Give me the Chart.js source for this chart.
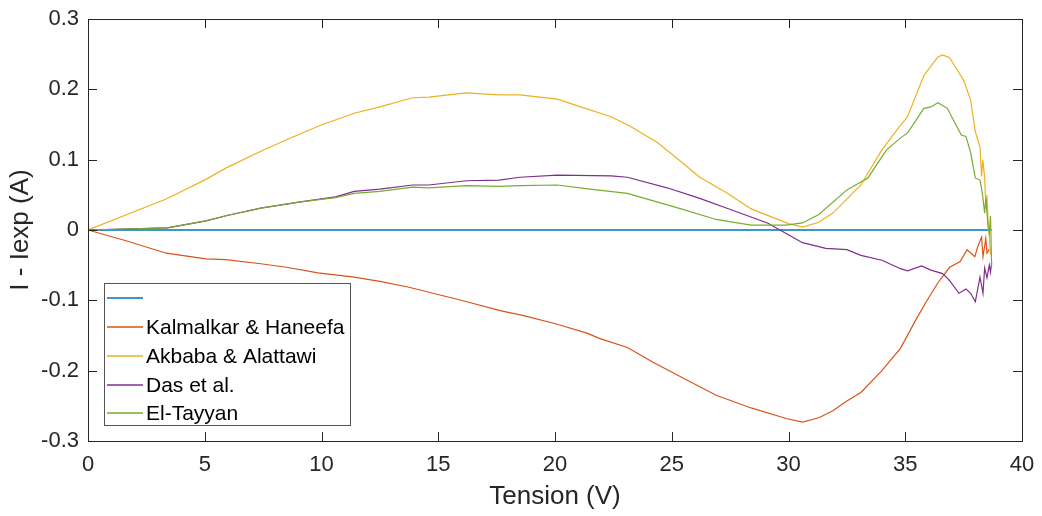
<!DOCTYPE html>
<html>
<head>
<meta charset="utf-8">
<title>I - Iexp vs Tension</title>
<script src="https://cdn.jsdelivr.net/npm/chart.js@4.4.1/dist/chart.umd.min.js"></script>
<style>
  body { margin: 0; background: #fff; }
  #wrap { width: 1042px; height: 516px; }
</style>
</head>
<body>
<div id="wrap"><canvas id="ivChart" width="1042" height="516"></canvas></div>
<script>
// Series (V = tension, I = I - Iexp)
const refV = [0, 38.7];
const refI = [0, 0];

const kalV = [0, 1.7, 3.35, 5.05, 5.9, 7.4, 8.5, 9.85, 11.4, 12.5, 13.7, 14.9, 16.1, 17.7, 18.7, 20.1, 21.4, 21.9, 23.1, 24.2, 25.4, 26.9, 28.4, 29.9, 30.6, 31.3, 31.9, 32.5, 33.1, 34.0, 34.8, 35.5, 35.9, 36.4, 36.9, 37.35, 37.65, 37.98, 38.1, 38.27, 38.33, 38.45, 38.5, 38.6];
const kalI = [0, -0.016, -0.033, -0.041, -0.042, -0.048, -0.053, -0.061, -0.067, -0.073, -0.081, -0.091, -0.101, -0.115, -0.122, -0.134, -0.147, -0.154, -0.167, -0.188, -0.209, -0.235, -0.253, -0.268, -0.273, -0.267, -0.257, -0.243, -0.231, -0.2, -0.168, -0.125, -0.102, -0.075, -0.053, -0.045, -0.028, -0.038, -0.024, -0.01, -0.038, -0.012, -0.033, -0.027];

const akbV = [0, 3.35, 5.05, 5.9, 7.4, 8.55, 9.96, 11.4, 12.5, 13.9, 14.6, 16.2, 17.6, 18.5, 20.1, 21.1, 22.4, 23.2, 24.4, 25.4, 26.2, 27.4, 28.4, 30.0, 30.6, 31.3, 31.9, 33.1, 34.0, 34.8, 35.1, 35.8, 36.4, 36.6, 36.9, 37.5, 37.8, 38.0, 38.2, 38.27, 38.32, 38.4, 38.45, 38.5, 38.55, 38.6, 38.65];
const akbI = [0, 0.044, 0.072, 0.088, 0.112, 0.129, 0.149, 0.166, 0.175, 0.188, 0.189, 0.195, 0.192, 0.192, 0.186, 0.175, 0.161, 0.148, 0.124, 0.097, 0.075, 0.052, 0.03, 0.009, 0.004, 0.011, 0.024, 0.064, 0.114, 0.149, 0.161, 0.22, 0.246, 0.249, 0.245, 0.213, 0.185, 0.14, 0.118, 0.076, 0.1, 0.075, 0.035, 0.05, 0.01, -0.01, -0.035];

const dasV = [0, 3.4, 5.05, 6.0, 7.4, 9.1, 10.6, 11.4, 12.5, 13.9, 14.6, 16.2, 17.6, 18.5, 20.1, 22.4, 23.1, 24.8, 26.2, 27.6, 29.1, 29.9, 30.6, 31.6, 32.5, 33.1, 34.0, 34.8, 35.1, 35.7, 36.1, 36.6, 36.9, 37.3, 37.6, 37.8, 38.0, 38.2, 38.33, 38.4, 38.5, 38.6, 38.65, 38.7];
const dasI = [0, 0.003, 0.013, 0.021, 0.031, 0.04, 0.047, 0.055, 0.058, 0.064, 0.064, 0.07, 0.071, 0.075, 0.078, 0.077, 0.075, 0.06, 0.045, 0.028, 0.01, -0.005, -0.018, -0.026, -0.028, -0.036, -0.043, -0.055, -0.058, -0.051, -0.057, -0.062, -0.072, -0.09, -0.084, -0.09, -0.102, -0.067, -0.09, -0.054, -0.068, -0.05, -0.06, -0.046];

const tayV = [0, 3.4, 5.05, 6.0, 7.4, 9.1, 10.6, 11.4, 12.5, 13.9, 14.6, 16.2, 17.6, 18.5, 20.1, 21.5, 23.1, 25.4, 26.9, 28.4, 29.9, 30.6, 31.3, 32.5, 33.4, 34.2, 34.8, 35.1, 35.8, 36.1, 36.4, 36.8, 37.4, 37.6, 37.8, 38.0, 38.2, 38.3, 38.4, 38.45, 38.55, 38.6, 38.65, 38.7];
const tayI = [0, 0.003, 0.013, 0.021, 0.031, 0.04, 0.046, 0.052, 0.055, 0.061, 0.06, 0.063, 0.062, 0.063, 0.064, 0.058, 0.052, 0.03, 0.015, 0.007, 0.007, 0.01, 0.022, 0.057, 0.074, 0.114, 0.131, 0.138, 0.173, 0.175, 0.181, 0.173, 0.135, 0.133, 0.11, 0.074, 0.071, 0.053, 0.024, 0.045, 0.004, -0.004, 0.02, -0.052];

const seriesNames = ['', 'Kalmalkar & Haneefa', 'Akbaba & Alattawi', 'Das et al.', 'El-Tayyan'];
const seriesColors = ['#0072BD', '#D95319', '#EDB120', '#7E2F8E', '#77AC30'];
const xTicks = [0, 5, 10, 15, 20, 25, 30, 35, 40];
const yTicks = [-0.3, -0.2, -0.1, 0, 0.1, 0.2, 0.3];

const FONT = '"Liberation Sans", Arial, Helvetica, sans-serif';
const TEXT = '#262626';

function toPoints(vs, is) {
    return vs.map((v, k) => ({ x: v, y: is[k] }));
}

const allV = [refV, kalV, akbV, dasV, tayV];
const allI = [refI, kalI, akbI, dasI, tayI];

const datasets = allV.map((vs, i) => ({
    label: seriesNames[i],
    data: toPoints(vs, allI[i]),
    borderColor: seriesColors[i],
    backgroundColor: seriesColors[i],
    borderWidth: i === 0 ? 1.5 : 1.2,
    pointRadius: 0,
    tension: 0,
    fill: false,
    order: 4 - i   // later series on top, like MATLAB
}));

// frame, inward ticks on all four sides, axis titles and the boxed legend
const matlabLook = {
    id: 'matlabLook',
    afterDraw(chart) {
        const ctx = chart.ctx;
        const a = chart.chartArea;
        const xs = chart.scales.x, ys = chart.scales.y;
        const tick = 9;

        ctx.save();
        ctx.strokeStyle = TEXT;
        ctx.lineWidth = 1;
        ctx.strokeRect(Math.round(a.left) + 0.5, Math.round(a.top) + 0.5,
                       Math.round(a.right - a.left), Math.round(a.bottom - a.top));

        ctx.beginPath();
        xTicks.forEach(v => {
            const px = Math.round(xs.getPixelForValue(v)) + 0.5;
            ctx.moveTo(px, a.bottom); ctx.lineTo(px, a.bottom - tick);
            ctx.moveTo(px, a.top); ctx.lineTo(px, a.top + tick);
        });
        yTicks.forEach(v => {
            const py = Math.round(ys.getPixelForValue(v)) + 0.5;
            ctx.moveTo(a.left, py); ctx.lineTo(a.left + tick, py);
            ctx.moveTo(a.right, py); ctx.lineTo(a.right - tick, py);
        });
        ctx.stroke();

        // axis titles
        ctx.fillStyle = TEXT;
        ctx.font = '26px ' + FONT;
        ctx.textAlign = 'center';
        ctx.textBaseline = 'middle';
        ctx.fillText('Tension (V)', (a.left + a.right) / 2, 497);
        ctx.translate(21, (a.top + a.bottom) / 2);
        ctx.rotate(-Math.PI / 2);
        ctx.fillText('I - Iexp (A)', 0, 0);
        ctx.restore();

        // legend
        ctx.save();
        const lx = 104, ly = 283, lw = 246, lh = 142;
        ctx.fillStyle = '#fff';
        ctx.fillRect(lx, ly, lw, lh);
        ctx.strokeStyle = '#555';
        ctx.lineWidth = 1;
        ctx.strokeRect(lx + 0.5, ly + 0.5, lw, lh);
        ctx.font = '21px ' + FONT;
        ctx.textAlign = 'left';
        ctx.textBaseline = 'middle';
        const rows = [298, 327, 356, 385, 413];
        for (let i = 0; i < seriesNames.length; i++) {
            const y = rows[i];
            ctx.beginPath();
            ctx.strokeStyle = seriesColors[i];
            ctx.lineWidth = 1.5;
            ctx.moveTo(107, y);
            ctx.lineTo(143, y);
            ctx.stroke();
            ctx.fillStyle = '#000';
            ctx.fillText(seriesNames[i], 146, y + 1);
        }
        ctx.restore();
    }
};

const ivChart = new Chart(document.getElementById('ivChart').getContext('2d'), {
    type: 'line',
    data: { datasets: datasets },
    options: {
        responsive: false,
        animation: false,
        events: [],
        layout: { padding: { top: 19, right: 20, left: 0, bottom: 0 } },
        plugins: {
            legend: { display: false },
            tooltip: { enabled: false }
        },
        scales: {
            x: {
                type: 'linear',
                min: 0,
                max: 40,
                afterBuildTicks: scale => { scale.ticks = xTicks.map(v => ({ value: v })); },
                afterFit: scale => {
                    scale.height = 75;
                    scale.paddingLeft = 0;
                    scale.paddingRight = 0;
                },
                grid: { display: false, drawTicks: false },
                border: { display: false },
                ticks: {
                    color: TEXT,
                    padding: 11,
                    maxRotation: 0,
                    font: { family: FONT, size: 22 },
                    callback: v => String(v)
                }
            },
            y: {
                type: 'linear',
                min: -0.3,
                max: 0.3,
                afterBuildTicks: scale => { scale.ticks = yTicks.map(v => ({ value: v })); },
                afterFit: scale => {
                    scale.width = 88;
                    scale.paddingTop = 0;
                    scale.paddingBottom = 0;
                },
                grid: { display: false, drawTicks: false },
                border: { display: false },
                ticks: {
                    color: TEXT,
                    padding: 9,
                    font: { family: FONT, size: 22 },
                    callback: v => String(parseFloat(Number(v).toFixed(1)))
                }
            }
        }
    },
    plugins: [matlabLook]
});
</script>
</body>
</html>
